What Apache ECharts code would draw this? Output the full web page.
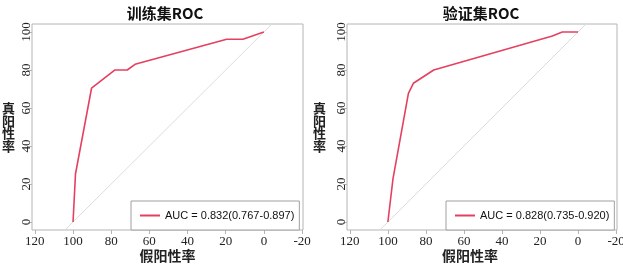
<!DOCTYPE html>
<html>
<head>
<meta charset="utf-8">
<script src="https://cdn.jsdelivr.net/npm/echarts@6/dist/echarts.min.js"></script>
<style>
html,body{margin:0;padding:0;background:#fff;}
#main{width:623px;height:264px;}
</style>
</head>
<body>
<div id="main"></div>
<script>
// 训练集 ROC 曲线 (x = 特异度%, 轴反向; y = 灵敏度%)
var trainX = [100, 98.7, 90.3, 78, 71.6, 67.5, 19.5, 11, 0];
var trainY = [0, 25.4, 70.4, 80, 80, 83, 96.2, 96.2, 100];
// 验证集 ROC 曲线
var validX = [100, 97.3, 89.2, 86.6, 75.9, 13.5, 8.3, 0];
var validY = [0, 22.8, 67.7, 73, 80, 97.9, 100, 100];
// 参考线
var refX = [110, -10];
var refY = [-10, 110];

var xTicks = [120, 100, 80, 60, 40, 20, 0, -20];
var yTicks = [0, 20, 40, 60, 80, 100];
var titles = ['训练集ROC', '验证集ROC'];
var aucLabels = ['AUC = 0.832(0.767-0.897)', 'AUC = 0.828(0.735-0.920)'];

function pairs(xs, ys) {
    var out = [];
    for (var i = 0; i < xs.length; i++) out.push([xs[i], ys[i]]);
    return out;
}

var myChart = echarts.init(document.getElementById('main'));

var frameColor = '#b4b4b4';
var redColor = '#e5405f';
var tickFont = {fontFamily: '"Liberation Serif", "DejaVu Serif", serif', fontSize: 13, color: '#222'};

function makeX(idx, shift) {
    return {
        gridIndex: idx, type: 'value', inverse: true,
        min: -20.5, max: 121.5,
        name: '假阳性率', nameLocation: 'middle', nameGap: 19, nameMoveOverlap: false,
        nameTextStyle: {fontFamily: '"Noto Sans CJK SC"', fontSize: 14, fontWeight: 'bold', color: '#222', padding: [0, shift, 0, 0]},
        splitLine: {show: false},
        axisLine: {show: false, onZero: false},
        axisTick: {show: true, length: 4, lineStyle: {color: frameColor}, customValues: xTicks},
        axisLabel: Object.assign({margin: 5, customValues: xTicks}, tickFont)
    };
}
function makeY(idx, gap) {
    return {
        gridIndex: idx, type: 'value',
        min: -4.2, max: 104.2,
        name: '真\n阳\n性\n率', nameLocation: 'middle', nameGap: gap, nameRotate: 0, nameMoveOverlap: false,
        nameTextStyle: {fontFamily: '"Noto Sans CJK SC"', fontSize: 13, fontWeight: 'bold', color: '#222', lineHeight: 12.5},
        splitLine: {show: false},
        axisLine: {show: false, onZero: false},
        axisTick: {show: true, length: 4, lineStyle: {color: frameColor}, customValues: yTicks},
        axisLabel: Object.assign({margin: -1, rotate: 90, customValues: yTicks}, tickFont)
    };
}

function makeLegend(i, left) {
    return {
        data: [aucLabels[i]], left: left, top: 201, orient: 'horizontal',
        padding: [9, 5, 9, 9], itemWidth: 20, itemHeight: 2, itemGap: 8, icon: 'rect',
        borderColor: '#a0a0a0', borderWidth: 1, backgroundColor: '#fff',
        textStyle: {fontFamily: '"Liberation Sans", Arial', fontSize: 11, color: '#111'}
    };
}

option = {
    backgroundColor: '#fff',
    animation: false,
    title: [
        {text: titles[0], left: 160, top: 1, textAlign: 'center',
         textStyle: {fontFamily: '"Noto Sans CJK SC"', fontSize: 15, fontWeight: 'bold', color: '#111'}},
        {text: titles[1], left: 476, top: 1, textAlign: 'center',
         textStyle: {fontFamily: '"Noto Sans CJK SC"', fontSize: 15, fontWeight: 'bold', color: '#111'}}
    ],
    grid: [
        {left: 32, width: 271, top: 24, height: 206, show: true, borderColor: frameColor, borderWidth: 1,
         containLabel: false, outerBoundsMode: 'none'},
        {left: 347, width: 270, top: 24, height: 206, show: true, borderColor: frameColor, borderWidth: 1,
         containLabel: false, outerBoundsMode: 'none'}
    ],
    legend: [makeLegend(0, 131), makeLegend(1, 446)],
    xAxis: [makeX(0, 0), makeX(1, 24)],
    yAxis: [makeY(0, 17), makeY(1, 21)],
    series: [
        {type: 'line', xAxisIndex: 0, yAxisIndex: 0, data: pairs(refX, refY), symbol: 'none', clip: true,
         lineStyle: {color: '#dcdcdc', width: 1}, silent: true, z: 1},
        {type: 'line', name: aucLabels[0], xAxisIndex: 0, yAxisIndex: 0, data: pairs(trainX, trainY), symbol: 'none',
         color: redColor, lineStyle: {color: redColor, width: 1.6}, z: 2},
        {type: 'line', xAxisIndex: 1, yAxisIndex: 1, data: pairs(refX, refY), symbol: 'none', clip: true,
         lineStyle: {color: '#dcdcdc', width: 1}, silent: true, z: 1},
        {type: 'line', name: aucLabels[1], xAxisIndex: 1, yAxisIndex: 1, data: pairs(validX, validY), symbol: 'none',
         color: redColor, lineStyle: {color: redColor, width: 1.6}, z: 2}
    ]
};
myChart.setOption(option);
</script>
</body>
</html>
